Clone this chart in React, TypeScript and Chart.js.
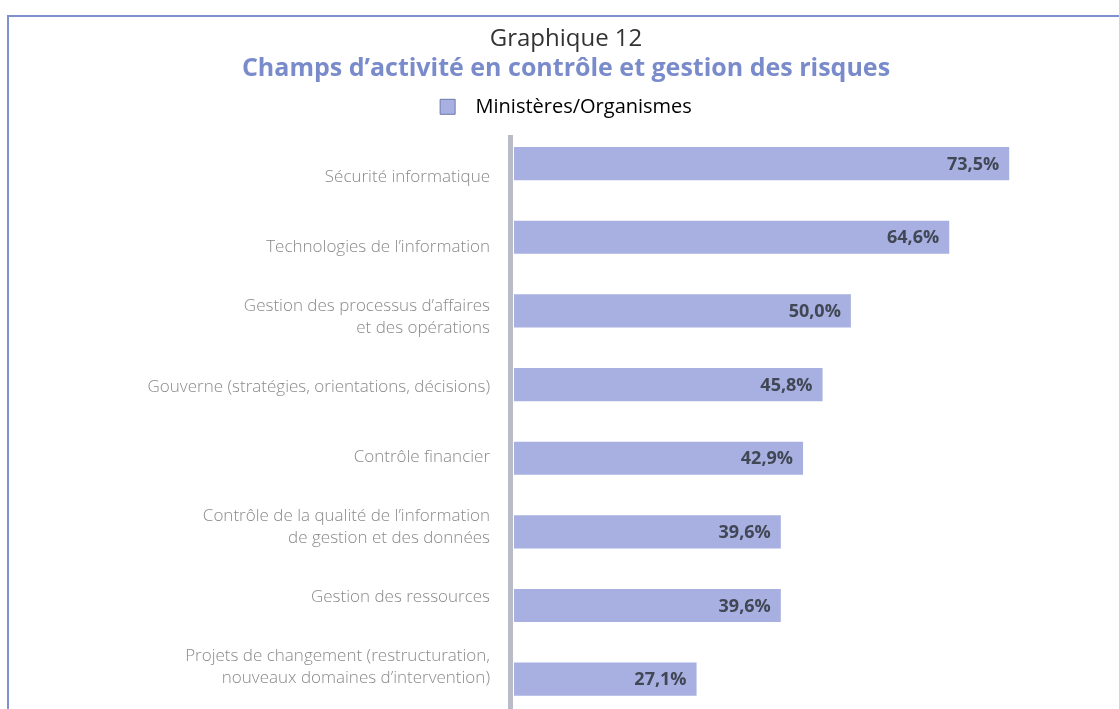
import React, { useEffect, useRef } from "react";
import { Chart, registerables } from "chart.js";

Chart.register(...registerables);

const categories: (string | string[])[] = [
  "Sécurité informatique",
  "Technologies de l’information",
  ["Gestion des processus d’affaires", "et des opérations"],
  "Gouverne (stratégies, orientations, décisions)",
  "Contrôle financier",
  ["Contrôle de la qualité de l’information", "de gestion et des données"],
  "Gestion des ressources",
  ["Projets de changement (restructuration,", "nouveaux domaines d’intervention)"],
];
const values: number[] = [73.5, 64.6, 50.0, 45.8, 42.9, 39.6, 39.6, 27.1];
const seriesName = "Ministères/Organismes";
const titleText = "Graphique 12";
const subtitleText = "Champs d’activité en contrôle et gestion des risques";

const BAR = "#a7b0e0";
const FRAME = "#7f90d0";

const framePlugin = {
  id: "frame",
  beforeDraw(chart: any) {
    const ctx = chart.ctx;
    ctx.save();
    ctx.fillStyle = "#ffffff";
    ctx.fillRect(0, 0, chart.width, chart.height);
    ctx.strokeStyle = FRAME;
    ctx.lineWidth = 2;
    ctx.beginPath();
    ctx.moveTo(8, chart.height);
    ctx.lineTo(8, 16);
    ctx.lineTo(chart.width, 16);
    ctx.stroke();
    // vertical axis line
    const x0 = chart.scales.x.getPixelForValue(0);
    ctx.fillStyle = "#b9bcc6";
    ctx.fillRect(x0 - 6, 135, 5, chart.height - 135);
    ctx.restore();
  },
};

const valuePlugin = {
  id: "values",
  afterDatasetsDraw(chart: any) {
    const ctx = chart.ctx;
    const meta = chart.getDatasetMeta(0);
    ctx.save();
    ctx.font = "bold 18px 'Open Sans'";
    ctx.fillStyle = "#424756";
    ctx.textAlign = "right";
    ctx.textBaseline = "middle";
    meta.data.forEach((el: any, i: number) => {
      const t = values[i].toFixed(1).replace(".", ",") + "%";
      ctx.fillText(t, el.x - 10, el.y + 1);
    });
    ctx.restore();
  },
};

export default function App() {
  const ref = useRef<HTMLCanvasElement>(null);
  useEffect(() => {
    document.body.style.margin = "0";
    const chart = new Chart(ref.current!, {
      type: "bar",
      data: {
        labels: categories,
        datasets: [
          {
            label: seriesName,
            data: values,
            backgroundColor: BAR,
            borderWidth: 0,
            categoryPercentage: 1,
            barPercentage: 0.45,
            yAxisID: "y",
          },
        ],
      },
      options: {
        indexAxis: "y",
        animation: false,
        responsive: false,
        layout: { padding: { top: 24, right: 2, bottom: 40, left: 15 } },
        plugins: {
          title: {
            display: true,
            text: titleText,
            color: "#333333",
            font: { family: "'Open Sans'", size: 24, weight: "normal", lineHeight: 1.2 },
            padding: { top: 1, bottom: 0 },
          },
          subtitle: {
            display: true,
            text: subtitleText,
            color: "#7a8bcc",
            font: { family: "'Open Sans'", size: 25, weight: "bold", lineHeight: 1.2 },
            padding: { top: 0, bottom: 0 },
          },
          legend: {
            display: true,
            labels: {
              color: "#4a4a4a",
              font: { family: "'Open Sans'", size: 20 },
              boxWidth: 15,
              boxHeight: 15,
              padding: 13,
              generateLabels: () => [
                {
                  text: "  " + seriesName,
                  fillStyle: BAR,
                  strokeStyle: "#6f7aa8",
                  lineWidth: 1,
                  hidden: false,
                  datasetIndex: 0,
                },
              ],
            },
          },
          tooltip: { enabled: false },
        },
        scales: {
          x: {
            display: false,
            min: 0,
            max: 89.5,
          },
          y: {
            display: false,
          },
          yl: {
            type: "linear",
            position: "left",
            reverse: true,
            offset: false,
            bounds: "data",
            min: -0.713,
            max: 7.698,
            grid: { display: false, drawTicks: false, offset: false },
            border: { display: false },
            afterBuildTicks(scale: any) {
              scale.ticks = categories.map((_, i) => ({ value: i }));
            },
            ticks: {
              color: "#8a8a8a",
              padding: 24,
              autoSkip: false,
              font: { family: "'Open Sans'", size: 17, weight: 300, lineHeight: 1.3 },
              callback: (v: any) => categories[Number(v)],
            },
            afterFit(scale: any) {
              scale.width = 499;
            },
          },
        },
      },
      plugins: [framePlugin, valuePlugin],
    });
    return () => chart.destroy();
  }, []);
  return (
    <div style={{ width: 1119, height: 709, overflow: "hidden", position: "relative" }}>
      <canvas ref={ref} width={1119} height={756} style={{ display: "block" }} />
    </div>
  );
}
